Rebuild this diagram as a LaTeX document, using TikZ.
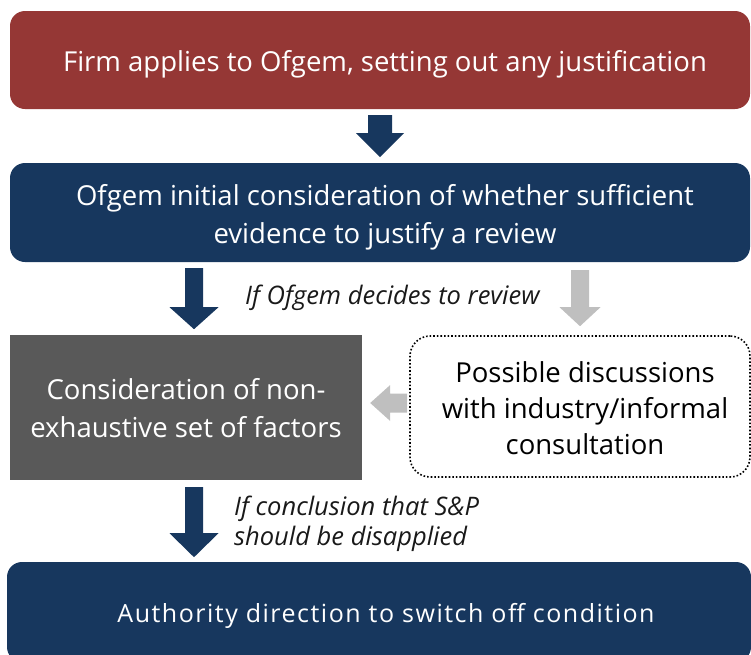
\documentclass[tikz,border=0pt]{standalone}
\usepackage{fontspec}
\setmainfont{Open Sans}
\usetikzlibrary{calc}
\definecolor{firmred}{HTML}{953735}
\definecolor{navy}{HTML}{17375E}
\definecolor{slate}{HTML}{595959}
\definecolor{pale}{HTML}{BFBFBF}
\tikzset{
  x=1pt, y=-1pt,
  box/.style={rectangle, inner sep=0pt},
  roundbox/.style={box, rounded corners=15pt},
  boxtext/.style={inner sep=0pt, align=center, text=white,
    font=\fontsize{27.5}{38}\selectfont},
  lbl/.style={inner sep=0pt, align=left, text=black!90,
    font=\itshape\fontsize{25.5}{29.5}\selectfont},
  % block arrow pointing down from its tail: length/shaft half-width/head half-width/head length
  pics/downblock/.style args={#1/#2/#3/#4}{code={
    \fill[pic actions] (-#2,0) -- (#2,0) -- (#2,#1-#4) -- (#3,#1-#4) -- (0,#1)
      -- (-#3,#1-#4) -- (-#2,#1-#4) -- cycle;}},
  % block arrow pointing left from its tail
  pics/leftblock/.style args={#1/#2/#3/#4}{code={
    \fill[pic actions] (0,-#2) -- (0,#2) -- (-#1+#4,#2) -- (-#1+#4,#3) -- (-#1,0)
      -- (-#1+#4,-#3) -- (-#1+#4,-#2) -- cycle;}},
}
\begin{document}
\begin{tikzpicture}
\useasboundingbox (0,0) rectangle (751,654);

\node[roundbox, fill=firmred, minimum width=740pt, minimum height=98pt,
  label={[boxtext, xshift=5pt, yshift=-4pt]center:Firm applies to Ofgem, setting out any justification}]
  (firm) at (380,60) {};
\node[roundbox, fill=navy, minimum width=740pt, minimum height=99pt,
  label={[boxtext, xshift=5pt, yshift=-5pt]center:Ofgem initial consideration of whether sufficient\\evidence to justify a review}]
  (review) at (380,212.5) {};
\node[box, fill=slate, minimum width=352pt, minimum height=145pt,
  label={[boxtext, yshift=-1pt]center:Consideration of non-\\exhaustive set of factors}]
  (factors) at (186,407.5) {};
\node[box, draw=black, dotted, line width=1.6pt, rounded corners=20pt,
  minimum width=340pt, minimum height=141pt,
  label={[boxtext, text=black, font=\fontsize{27.5}{36}\selectfont, xshift=5pt, yshift=-1.5pt]center:Possible discussions\\with industry/informal\\consultation}]
  (discuss) at (580,406.5) {};
\node[roundbox, fill=navy, minimum width=744pt, minimum height=100pt,
  label={[boxtext, font=\fontsize{25}{30}\selectfont\addfontfeature{LetterSpace=6}, xshift=7pt, yshift=-4pt]center:Authority direction to switch off condition}]
  (authority) at (379,612) {};

\node[lbl, anchor=west] (ifreview) at (245,298) {If Ofgem decides to review};
\node[lbl, anchor=west] (ifdisapply) at (234,524) {If conclusion that S\&P\\should be disapplied};

\pic[fill=navy] at ($(firm.south)+(0,6)$) {downblock=42/12/24/24};
\pic[fill=navy] at ($(review.south -| factors.center)+(8,6)$) {downblock=61/9/24.5/22};
\pic[fill=pale] at ($(review.south -| discuss.center)+(0,8)$) {downblock=56/9/20.5/19};
\pic[fill=pale] at ($(discuss.west)+(-2,-3.5)$) {leftblock=37/9.5/18/20};
\pic[fill=navy] at ($(factors.south)+(8,7)$) {downblock=70/9/24.5/24};
\end{tikzpicture}
\end{document}
